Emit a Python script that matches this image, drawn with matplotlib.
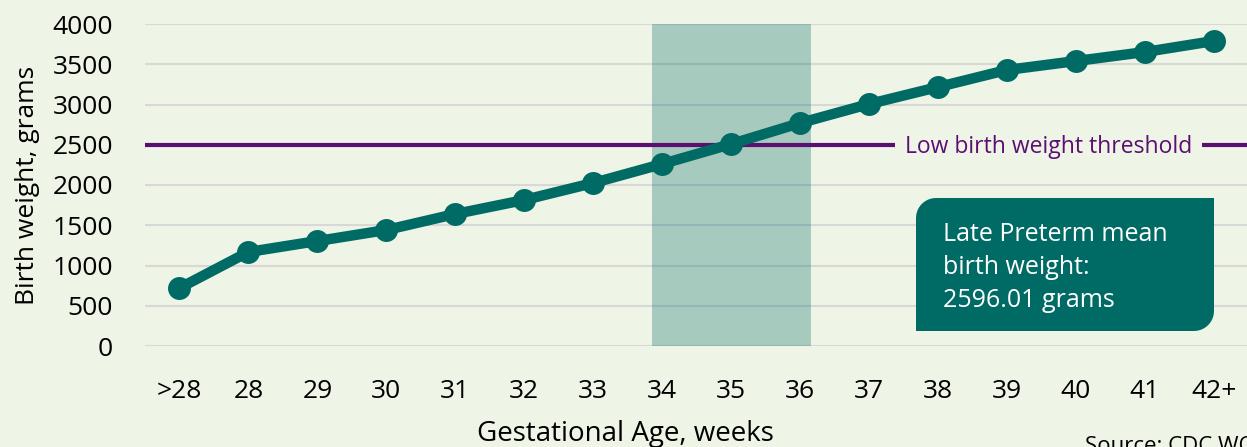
import numpy as np
import matplotlib.pyplot as plt
from matplotlib.patches import Polygon, Rectangle
from matplotlib.transforms import IdentityTransform

# data
weeks = [">28", "28", "29", "30", "31", "32", "33", "34", "35",
         "36", "37", "38", "39", "40", "41", "42+"]
weight = [720, 1168, 1304, 1441, 1640, 1814, 2025, 2261, 2509,
          2770, 3006, 3217, 3429, 3540, 3652, 3789]
threshold = 2500
late_preterm = ["34", "36"]
yticks = [0, 500, 1000, 1500, 2000, 2500, 3000, 3500, 4000]

bg = "#EEF4E6"
teal = "#006A64"
purple = "#5C0F72"
W, H = 1247, 447

plt.rcParams['font.family'] = ['Open Sans', 'DejaVu Sans']

fig = plt.figure(figsize=(W / 100, H / 100), dpi=100, facecolor=bg)
ax = fig.add_axes([145 / W, 101 / H, 1 - 145 / W, 322 / H])
ax.set_facecolor(bg)

x = list(range(len(weeks)))
ax.set_xlim(-0.5, 15.48)
ax.set_ylim(0, 4000)

for y in yticks:
    ax.axhline(y, color="#D8D8D8", lw=1.5, zorder=1)

# late preterm shading
i0 = weeks.index(late_preterm[0])
i1 = weeks.index(late_preterm[1])
ax.add_patch(Rectangle((i0 - 0.145, 0), (i1 - i0) + 0.305, 4000,
                       facecolor=teal, alpha=0.3, edgecolor="none", zorder=2))

ax.axhline(threshold, color=purple, lw=3, zorder=3)
ax.text(12.6, threshold - 30, "Low birth weight threshold", color=purple,
        fontsize=16.5, ha="center", va="center", zorder=4,
        bbox=dict(facecolor=bg, edgecolor="none", pad=7))

ax.plot(x, weight, color=teal, lw=7.5, marker="o", markersize=15.5,
        zorder=5, clip_on=False)

# annotation box in pixels (origin bottom-left), rounded top-left and bottom-right
x0, x1, y0, y1, r = 916, 1214, H - 331, H - 198, 20
t = np.linspace(0, np.pi / 2, 12)
br = [(x1 - r + r * np.sin(a), y0 + r - r * np.cos(a)) for a in t]
tl = [(x0 + r - r * np.sin(a), y1 - r + r * np.cos(a)) for a in t]
pts = [(x0, y0)] + br + [(x1, y1)] + tl
fig.patches.append(Polygon(pts, closed=True, transform=IdentityTransform(),
                           facecolor=teal, edgecolor="none", zorder=6))
fig.text(943 / W, 1 - 222 / H, "Late Preterm mean\nbirth weight:\n2596.01 grams",
         color="white", fontsize=18, ha="left", va="top", linespacing=1.43,
         zorder=7)

ax.set_xticks(x)
ax.set_xticklabels(weeks, fontsize=19)
ax.set_yticks(yticks)
ax.set_yticklabels([str(v) for v in yticks], fontsize=19)
ax.tick_params(length=0)
ax.tick_params(axis="y", pad=23)
ax.tick_params(axis="x", pad=24)
ax.set_xlabel("Gestational Age, weeks", fontsize=20)
ax.xaxis.set_label_coords((625 - 145) / (W - 145), -0.23)
ax.xaxis.label.set_va("top")
ax.set_ylabel("Birth weight, grams", fontsize=19, labelpad=9)
for s in ax.spines.values():
    s.set_visible(False)

fig.text(1085 / W, 1 - 452 / H, "Source: CDC WONDER", fontsize=16,
         ha="left", va="baseline")

fig.savefig("out.png", dpi=100, facecolor=bg)
